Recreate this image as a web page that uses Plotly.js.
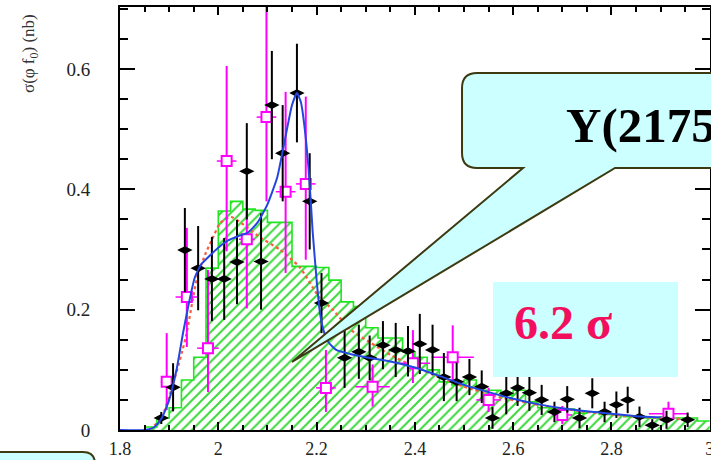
<!DOCTYPE html>
<html>
<head>
<meta charset="utf-8">
<script src="https://cdn.plot.ly/plotly-3.0.1.min.js"></script>
<style>
  html, body { margin: 0; padding: 0; background: #fff; }
  #chart { width: 711px; height: 460px; }
</style>
</head>
<body>
<div id="chart"></div>
<script>
// Monte-Carlo histogram: lower bin edges (GeV) and contents (nb)
const binWidth = 0.025;
const binLow = [1.850, 1.875, 1.900, 1.925, 1.950, 1.975, 2.000, 2.025, 2.050, 2.075,
                2.100, 2.125, 2.150, 2.175, 2.200, 2.225, 2.250, 2.275, 2.300, 2.325,
                2.350, 2.375, 2.400, 2.425, 2.450, 2.475, 2.500, 2.525, 2.550, 2.575,
                2.600, 2.625, 2.650, 2.675, 2.700, 2.725, 2.750, 2.775, 2.800, 2.825,
                2.850, 2.875, 2.900, 2.925, 2.950, 2.975];
const binHeight = [0.005, 0.020, 0.037, 0.083, 0.121, 0.269, 0.364, 0.380, 0.367, 0.365,
                   0.345, 0.345, 0.272, 0.272, 0.270, 0.249, 0.213, 0.205, 0.170, 0.153,
                   0.153, 0.130, 0.121, 0.100, 0.080, 0.075, 0.083, 0.066, 0.066, 0.058,
                   0.066, 0.047, 0.037, 0.036, 0.035, 0.028, 0.030, 0.026, 0.025, 0.022,
                   0.020, 0.020, 0.022, 0.020, 0.020, 0.015];

// Data set 1 (filled diamonds)
const diaX = [1.884, 1.908, 1.932, 1.959, 1.987, 2.012, 2.038, 2.058, 2.087, 2.109,
              2.131, 2.160, 2.186, 2.210, 2.257, 2.286, 2.308, 2.335, 2.361, 2.386,
              2.410, 2.436, 2.459, 2.485, 2.511, 2.536, 2.558, 2.586, 2.609, 2.633,
              2.658, 2.684, 2.710, 2.735, 2.761, 2.786, 2.810, 2.833, 2.857, 2.883,
              2.912, 2.955];
const diaY = [0.020, 0.071, 0.299, 0.269, 0.251, 0.251, 0.279, 0.430, 0.280, 0.540,
              0.460, 0.560, 0.380, 0.211, 0.120, 0.130, 0.120, 0.141, 0.133, 0.131,
              0.143, 0.133, 0.088, 0.080, 0.088, 0.072, 0.020, 0.061, 0.070, 0.062,
              0.050, 0.030, 0.051, 0.020, 0.061, 0.030, 0.042, 0.050, 0.022, 0.008,
              0.017, 0.017];
const diaErr = [0.010, 0.040, 0.070, 0.070, 0.070, 0.068, 0.070, 0.080, 0.080, 0.090,
                0.080, 0.082, 0.080, 0.050, 0.050, 0.045, 0.037, 0.040, 0.045, 0.042,
                0.050, 0.042, 0.040, 0.032, 0.030, 0.027, 0.018, 0.035, 0.030, 0.030,
                0.025, 0.017, 0.022, 0.017, 0.025, 0.017, 0.022, 0.022, 0.017, 0.010,
                0.015, 0.012];

// Data set 2 (open squares)
const sqX = [1.895, 1.936, 1.979, 2.017, 2.058, 2.098, 2.137, 2.178, 2.219, 2.314,
             2.396, 2.477, 2.550, 2.700, 2.916];
const sqY = [0.080, 0.221, 0.136, 0.447, 0.317, 0.520, 0.396, 0.409, 0.070, 0.072,
             0.111, 0.121, 0.050, 0.025, 0.027];
const sqErrUp = [0.081, 0.115, 0.130, 0.158, 0.115, 0.200, 0.166, 0.145, 0.063, 0.037,
                 0.055, 0.053, 0.020, 0.015, 0.020];
const sqErrDn = [0.047, 0.083, 0.073, 0.150, 0.115, 0.140, 0.135, 0.126, 0.040, 0.033,
                 0.033, 0.040, 0.020, 0.015, 0.015];
const sqXErr = [0.012, 0.023, 0.022, 0.020, 0.016, 0.020, 0.020, 0.020, 0.020, 0.035,
                0.035, 0.043, 0.025, 0.020, 0.040];

// Fit with the resonance (solid) and without it (dotted)
const fitX = [1.800, 1.850, 1.870, 1.885, 1.900, 1.915, 1.928, 1.940, 1.952, 1.965,
              1.983, 2.000, 2.020, 2.040, 2.060, 2.080, 2.100, 2.120, 2.135, 2.150,
              2.160, 2.168, 2.176, 2.185, 2.192, 2.200, 2.207, 2.215, 2.225, 2.240,
              2.270, 2.300, 2.350, 2.400, 2.450, 2.500, 2.550, 2.600, 2.650, 2.700,
              2.750, 2.800, 2.850, 2.900];
const fitY = [0.000, 0.000, 0.005, 0.020, 0.050, 0.100, 0.160, 0.210, 0.253, 0.275,
              0.290, 0.303, 0.315, 0.322, 0.328, 0.345, 0.375, 0.420, 0.480, 0.540,
              0.560, 0.545, 0.500, 0.420, 0.330, 0.250, 0.194, 0.163, 0.145, 0.133,
              0.126, 0.121, 0.114, 0.104, 0.090, 0.075, 0.063, 0.052, 0.043, 0.036,
              0.031, 0.027, 0.023, 0.021];
const bkgX = [1.860, 1.884, 1.906, 1.934, 1.957, 1.975, 1.987, 2.004, 2.026, 2.058,
              2.085, 2.125, 2.166, 2.206, 2.233, 2.270, 2.310, 2.350, 2.400, 2.450,
              2.500, 2.570, 2.650, 2.750, 2.850, 2.950];
const bkgY = [0.000, 0.020, 0.071, 0.155, 0.254, 0.295, 0.316, 0.344, 0.354, 0.337,
              0.320, 0.300, 0.270, 0.220, 0.200, 0.166, 0.145, 0.125, 0.105, 0.088,
              0.072, 0.055, 0.042, 0.030, 0.022, 0.018];

// Step outline of the histogram: left edges plus the closing right edge
const stepX = binLow.concat([binLow[binLow.length - 1] + binWidth]);
const stepY = binHeight.concat([binHeight[binHeight.length - 1]]);

const serif = 'Liberation Serif, Times New Roman, serif';

const traces = [
  {
    x: stepX, y: stepY, type: 'scatter', mode: 'lines',
    line: { shape: 'hv', color: '#1ee61e', width: 1.6 },
    fill: 'tozeroy', fillcolor: 'rgba(0,0,0,0)',
    fillpattern: { shape: '/', fgcolor: '#3ad83a', bgcolor: 'rgba(255,255,255,0)', size: 7, solidity: 0.28 },
    hoverinfo: 'skip'
  },
  {
    x: bkgX, y: bkgY, type: 'scatter', mode: 'lines',
    line: { color: '#ff5a3c', width: 2.2, dash: 'dot', shape: 'spline', smoothing: 0.6 }
  },
  {
    x: sqX, y: sqY, type: 'scatter', mode: 'markers',
    marker: { symbol: 'square', size: 10, color: '#fff', line: { width: 2, color: '#ff00ff' } },
    error_y: { type: 'data', symmetric: false, array: sqErrUp, arrayminus: sqErrDn,
               color: '#ff00ff', thickness: 2, width: 0 },
    error_x: { type: 'data', array: sqXErr, color: '#ff00ff', thickness: 1.5, width: 0 }
  },
  {
    x: diaX, y: diaY, type: 'scatter', mode: 'markers',
    marker: { symbol: 'diamond-wide', size: 11, color: '#000' },
    error_y: { type: 'data', array: diaErr, color: '#000', thickness: 2, width: 0 }
  },
  {
    x: fitX, y: fitY, type: 'scatter', mode: 'lines',
    line: { color: '#2446e0', width: 2, shape: 'spline', smoothing: 0.5 }
  }
];

// Plot-area geometry in pixels, used to place the decorations
const L = 120, R = 710, T = 7, B = 430;
const px = (x) => ((x - L) / (R - L)).toFixed(4);
const py = (y) => ((B - y) / (B - T)).toFixed(4);
const pt = (x, y) => px(x) + ',' + py(y);

const calloutPath =
  'M' + pt(477, 73) + ' L' + pt(760, 73) + ' L' + pt(760, 168) + ' L' + pt(615, 168) +
  ' L' + pt(292, 362) + ' L' + pt(523, 168) + ' L' + pt(477, 168) +
  ' Q' + pt(462, 168) + ' ' + pt(462, 153) + ' L' + pt(462, 88) +
  ' Q' + pt(462, 73) + ' ' + pt(477, 73) + ' Z';

const cornerPath =
  'M' + pt(-30, 452) + ' L' + pt(83, 452) + ' Q' + pt(95, 452) + ' ' + pt(95, 464) +
  ' L' + pt(95, 490) + ' L' + pt(-30, 490) + ' Z';

const layout = {
  width: 711, height: 460,
  margin: { l: L, r: 711 - R, t: T, b: 460 - B },
  paper_bgcolor: '#fff', plot_bgcolor: '#fff',
  showlegend: false,
  xaxis: {
    range: [1.8, 3.0005], dtick: 0.2, tick0: 1.8,
    ticks: 'inside', ticklen: 8, tickwidth: 2, tickcolor: '#000',
    minor: { dtick: 0.05, ticks: 'inside', ticklen: 5, tickwidth: 2, tickcolor: '#000' },
    showline: true, linecolor: '#000', linewidth: 2, mirror: 'allticks',
    showgrid: false, zeroline: false,
    ticklabelstandoff: 1, ticklabeloverflow: 'allow',
    tickfont: { family: serif, size: 18, color: '#222' }
  },
  yaxis: {
    range: [0, 0.703], dtick: 0.2,
    ticks: 'inside', ticklen: 15, tickwidth: 2, tickcolor: '#000',
    minor: { dtick: 0.05, ticks: 'inside', ticklen: 8, tickwidth: 2, tickcolor: '#000' },
    showline: true, linecolor: '#000', linewidth: 2, mirror: 'allticks',
    showgrid: false, zeroline: false,
    ticklabelstandoff: 24,
    tickfont: { family: serif, size: 19, color: '#222' }
  },
  shapes: [
    { type: 'rect', xref: 'paper', yref: 'paper', layer: 'above',
      x0: px(493), x1: px(678), y0: py(377), y1: py(282),
      fillcolor: '#ccffff', line: { width: 0 } },
    { type: 'path', xref: 'paper', yref: 'paper', layer: 'above', path: calloutPath,
      fillcolor: '#ccffff', line: { color: '#3d3a12', width: 2 } },
    { type: 'path', xref: 'paper', yref: 'paper', layer: 'above', path: cornerPath,
      fillcolor: '#ccffff', line: { color: '#3d3a12', width: 2 } }
  ],
  annotations: [
    { text: 'σ(φ f<sub>0</sub>) (nb)', xref: 'paper', yref: 'paper',
      x: px(30), y: py(54), textangle: -90, showarrow: false,
      xanchor: 'center', yanchor: 'middle',
      font: { family: serif, size: 17, color: '#333' } },
    { text: 'Y(2175)', xref: 'paper', yref: 'paper',
      x: px(564), y: py(126), showarrow: false, xanchor: 'left', yanchor: 'middle',
      font: { family: serif, size: 49, color: '#000', weight: 'bold' } },
    { text: '6.2 σ', xref: 'paper', yref: 'paper',
      x: px(512), y: py(323), showarrow: false, xanchor: 'left', yanchor: 'middle',
      font: { family: serif, size: 48, color: '#f2105e', weight: 'bold' } }
  ]
};

Plotly.newPlot('chart', traces, layout, { displayModeBar: false, staticPlot: true });
</script>
</body>
</html>
